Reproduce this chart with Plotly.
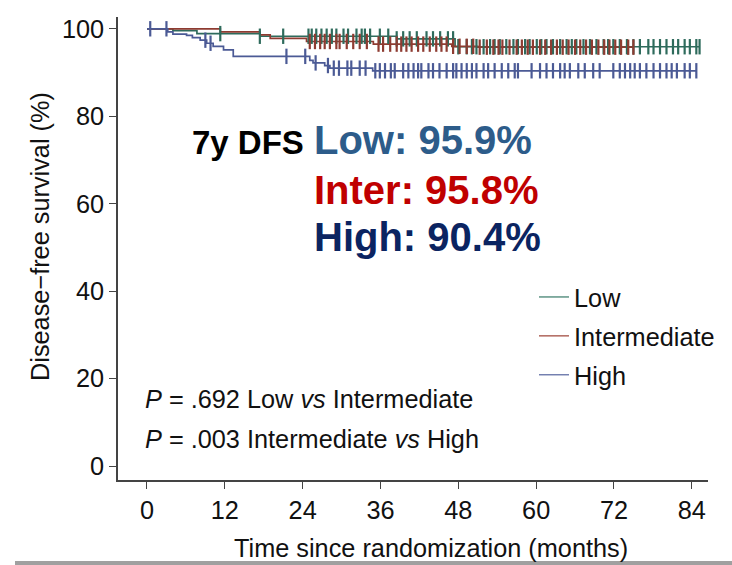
import numpy as np
import plotly.graph_objects as go

# ---------------- data ----------------
groups = ["Low", "Intermediate", "High"]

# Kaplan-Meier step points: event times (months) and survival (%)
low_t = [0, 4.0, 7.7, 17.4, 38.5, 47.5]
low_s = [100, 99.6, 98.9, 98.3, 97.7, 95.9]
inter_t = [0, 11.3, 17.4, 19.0, 24.6, 34.9, 47.0, 51.0]
inter_s = [100, 99.3, 98.6, 97.8, 97.1, 96.5, 96.0, 95.8]
high_t = [0, 3.2, 4.0, 6.1, 7.0, 8.2, 9.2, 10.2, 11.8, 13.3, 25.1, 25.6, 27.4, 28.2, 34.8]
high_s = [100, 99.3, 98.8, 98.5, 98.0, 97.4, 96.7, 96.0, 95.2, 93.7, 92.8, 92.2, 91.6, 91.0, 90.4]

# censoring times (months)
low_cens = [11.3, 17.4, 21.0, 24.9, 25.4, 26.1, 26.9, 27.7, 28.5, 29.2, 30.3, 31.0, 32.3, 33.1,
            33.6, 34.4, 35.9, 37.2, 38.5, 39.5, 40.5, 41.6, 43.1, 44.1, 45.2, 46.4, 47.2, 48.0,
            49.3, 50.1, 50.8, 51.9, 52.9, 53.6, 54.4, 55.4, 56.5, 57.2, 58.3, 59.0, 60.1, 60.8,
            61.6, 62.6, 63.7, 64.7, 65.5, 66.2, 67.3, 68.3, 69.3, 70.4, 71.1, 71.9, 72.9, 74.0,
            75.0, 76.0, 77.3, 78.1, 79.1, 80.1, 81.1, 81.9, 82.9, 83.7, 84.7, 85.2]
inter_cens = [25.1, 25.9, 26.7, 27.4, 28.2, 29.2, 29.7, 30.8, 31.8, 32.8, 33.9, 35.7, 36.4,
              37.5, 38.5, 39.2, 40.0, 40.8, 41.8, 42.6, 43.6, 44.6, 45.4, 46.2, 47.2, 48.2,
              49.3, 50.3, 51.3, 52.4, 53.4, 54.2, 54.8, 55.9, 57.0, 57.8, 58.7, 59.5, 60.6,
              61.4, 62.3, 63.2, 64.1, 65.0, 66.0, 66.8, 67.7, 68.6, 69.6, 70.5, 71.3, 72.2,
              73.1, 74.2, 75.0]
high_cens = [0.5, 3.0, 9.0, 9.8, 21.5, 24.4, 26.0, 27.9, 28.8, 29.6, 30.9, 31.5, 32.8, 33.7,
             35.2, 35.9, 36.7, 37.6, 38.2, 39.5, 40.3, 41.1, 41.8, 42.3, 43.4, 44.1, 45.1, 46.2,
             47.2, 47.7, 48.5, 49.3, 50.1, 50.8, 51.9, 52.6, 53.6, 54.7, 55.7, 56.7, 57.2, 59.3,
             60.6, 61.6, 62.6, 63.7, 64.4, 65.2, 66.5, 67.5, 68.8, 69.8, 71.9, 72.9, 73.7, 74.5,
             75.2, 76.0, 77.0, 78.1, 79.1, 80.1, 80.9, 81.7, 82.9, 83.7, 84.7]

dfs_labels = ["Low: 95.9%", "Inter: 95.8%", "High: 90.4%"]
p_labels = ["<i>P</i> = .692 Low <i>vs</i> Intermediate",
            "<i>P</i> = .003 Intermediate <i>vs</i> High"]

x_ticks = [0, 12, 24, 36, 48, 60, 72, 84]
y_ticks = [0, 20, 40, 60, 80, 100]

# ---------------- styling ----------------
curve_colors = ["#2E6B5C", "#8E3B31", "#4B5A95"]
legend_colors = ["#5E9485", "#B0665C", "#7480B0"]
text_colors = ["#2D5C8A", "#C00000", "#0B2461"]
FONT = "Liberation Sans, Arial, sans-serif"
FS = 25.3

W, H = 732, 565
ML, MR, MT, MB = 118, 24, 17, 85
PW, PH = W - ML - MR, H - MT - MB


def px(x):
    return (x - ML) / PW


def py(y):
    return (H - MB - y) / PH


def step_value(times, surv, t):
    idx = np.searchsorted(np.array(times), t, side="right") - 1
    return np.array(surv)[idx]


fig = go.Figure()
series = [(low_t, low_s, low_cens), (inter_t, inter_s, inter_cens), (high_t, high_s, high_cens)]
for i, (tt, ss, cc) in enumerate(series):
    t_end = max(cc)
    xs = list(tt) + [t_end]
    ys = list(ss) + [ss[-1]]
    fig.add_trace(go.Scatter(
        x=xs, y=ys, mode="lines", line=dict(shape="hv", color=curve_colors[i], width=1.7),
        name=groups[i], legendgroup=groups[i], showlegend=False))
for i, (tt, ss, cc) in enumerate(series):
    fig.add_trace(go.Scatter(
        x=cc, y=step_value(tt, ss, np.array(cc)), mode="markers",
        marker=dict(symbol="line-ns", size=11, line=dict(color=curve_colors[i], width=2.2)),
        legendgroup=groups[i], showlegend=False, hoverinfo="skip"))
# legend entries (lighter, thin line samples as in the reference key)
for i, g in enumerate(groups):
    fig.add_trace(go.Scatter(
        x=[None], y=[None], mode="lines", line=dict(color=legend_colors[i], width=1.5),
        name=g, legendgroup=g, showlegend=True))

annotations = []
annotations.append(dict(text="<b>7y DFS</b>", x=px(190), y=py(142), xref="paper", yref="paper",
                        xanchor="left", yanchor="middle", showarrow=False,
                        font=dict(family=FONT, size=33, color="#000000")))
for lbl, col, yc in zip(dfs_labels, text_colors, [140, 190, 237]):
    annotations.append(dict(text="<b>%s</b>" % lbl, x=px(312), y=py(yc), xref="paper", yref="paper",
                            xanchor="left", yanchor="middle", showarrow=False,
                            font=dict(family=FONT, size=40, color=col)))
for lbl, yc in zip(p_labels, [399, 439]):
    annotations.append(dict(text=lbl, x=px(143), y=py(yc), xref="paper", yref="paper",
                            xanchor="left", yanchor="middle", showarrow=False,
                            font=dict(family=FONT, size=FS, color="#111111")))
annotations.append(dict(text="Time since randomization (months)", x=px(431), y=py(548),
                        xref="paper", yref="paper", xanchor="center", yanchor="middle",
                        showarrow=False, font=dict(family=FONT, size=FS, color="#111111")))
annotations.append(dict(text="Disease\u2212free survival (%)", x=px(40), y=py(237),
                        xref="paper", yref="paper", xanchor="center", yanchor="middle",
                        textangle=-90, showarrow=False,
                        font=dict(family=FONT, size=FS, color="#111111")))

fig.update_layout(
    width=W, height=H,
    margin=dict(l=ML, r=MR, t=MT, b=MB),
    paper_bgcolor="white", plot_bgcolor="white",
    font=dict(family=FONT, size=FS, color="#111111"),
    showlegend=True,
    legend=dict(x=px(534), y=py(336), xanchor="left", yanchor="middle",
                bgcolor="rgba(0,0,0,0)", traceorder="grouped", tracegroupgap=3,
                font=dict(family=FONT, size=FS, color="#111111")),
    annotations=annotations,
    shapes=[dict(type="rect", xref="paper", yref="paper", x0=px(15), x1=px(732),
                 y0=py(565), y1=py(561), fillcolor="#a0a0a0", line=dict(width=0), layer="below")],
)
fig.update_xaxes(range=[-4.47, 86.5], tickvals=x_ticks, ticks="outside", ticklen=7, tickwidth=1.3,
                 tickcolor="#444", showline=True, linecolor="#444", linewidth=1.5,
                 showgrid=False, zeroline=False, fixedrange=True)
fig.update_yaxes(range=[-3.2, 102.7], tickvals=y_ticks, ticks="outside", ticklen=7, tickwidth=1.3,
                 tickcolor="#444", showline=True, linecolor="#444", linewidth=1.5,
                 showgrid=False, zeroline=False, fixedrange=True)

fig.write_html("out.html")
